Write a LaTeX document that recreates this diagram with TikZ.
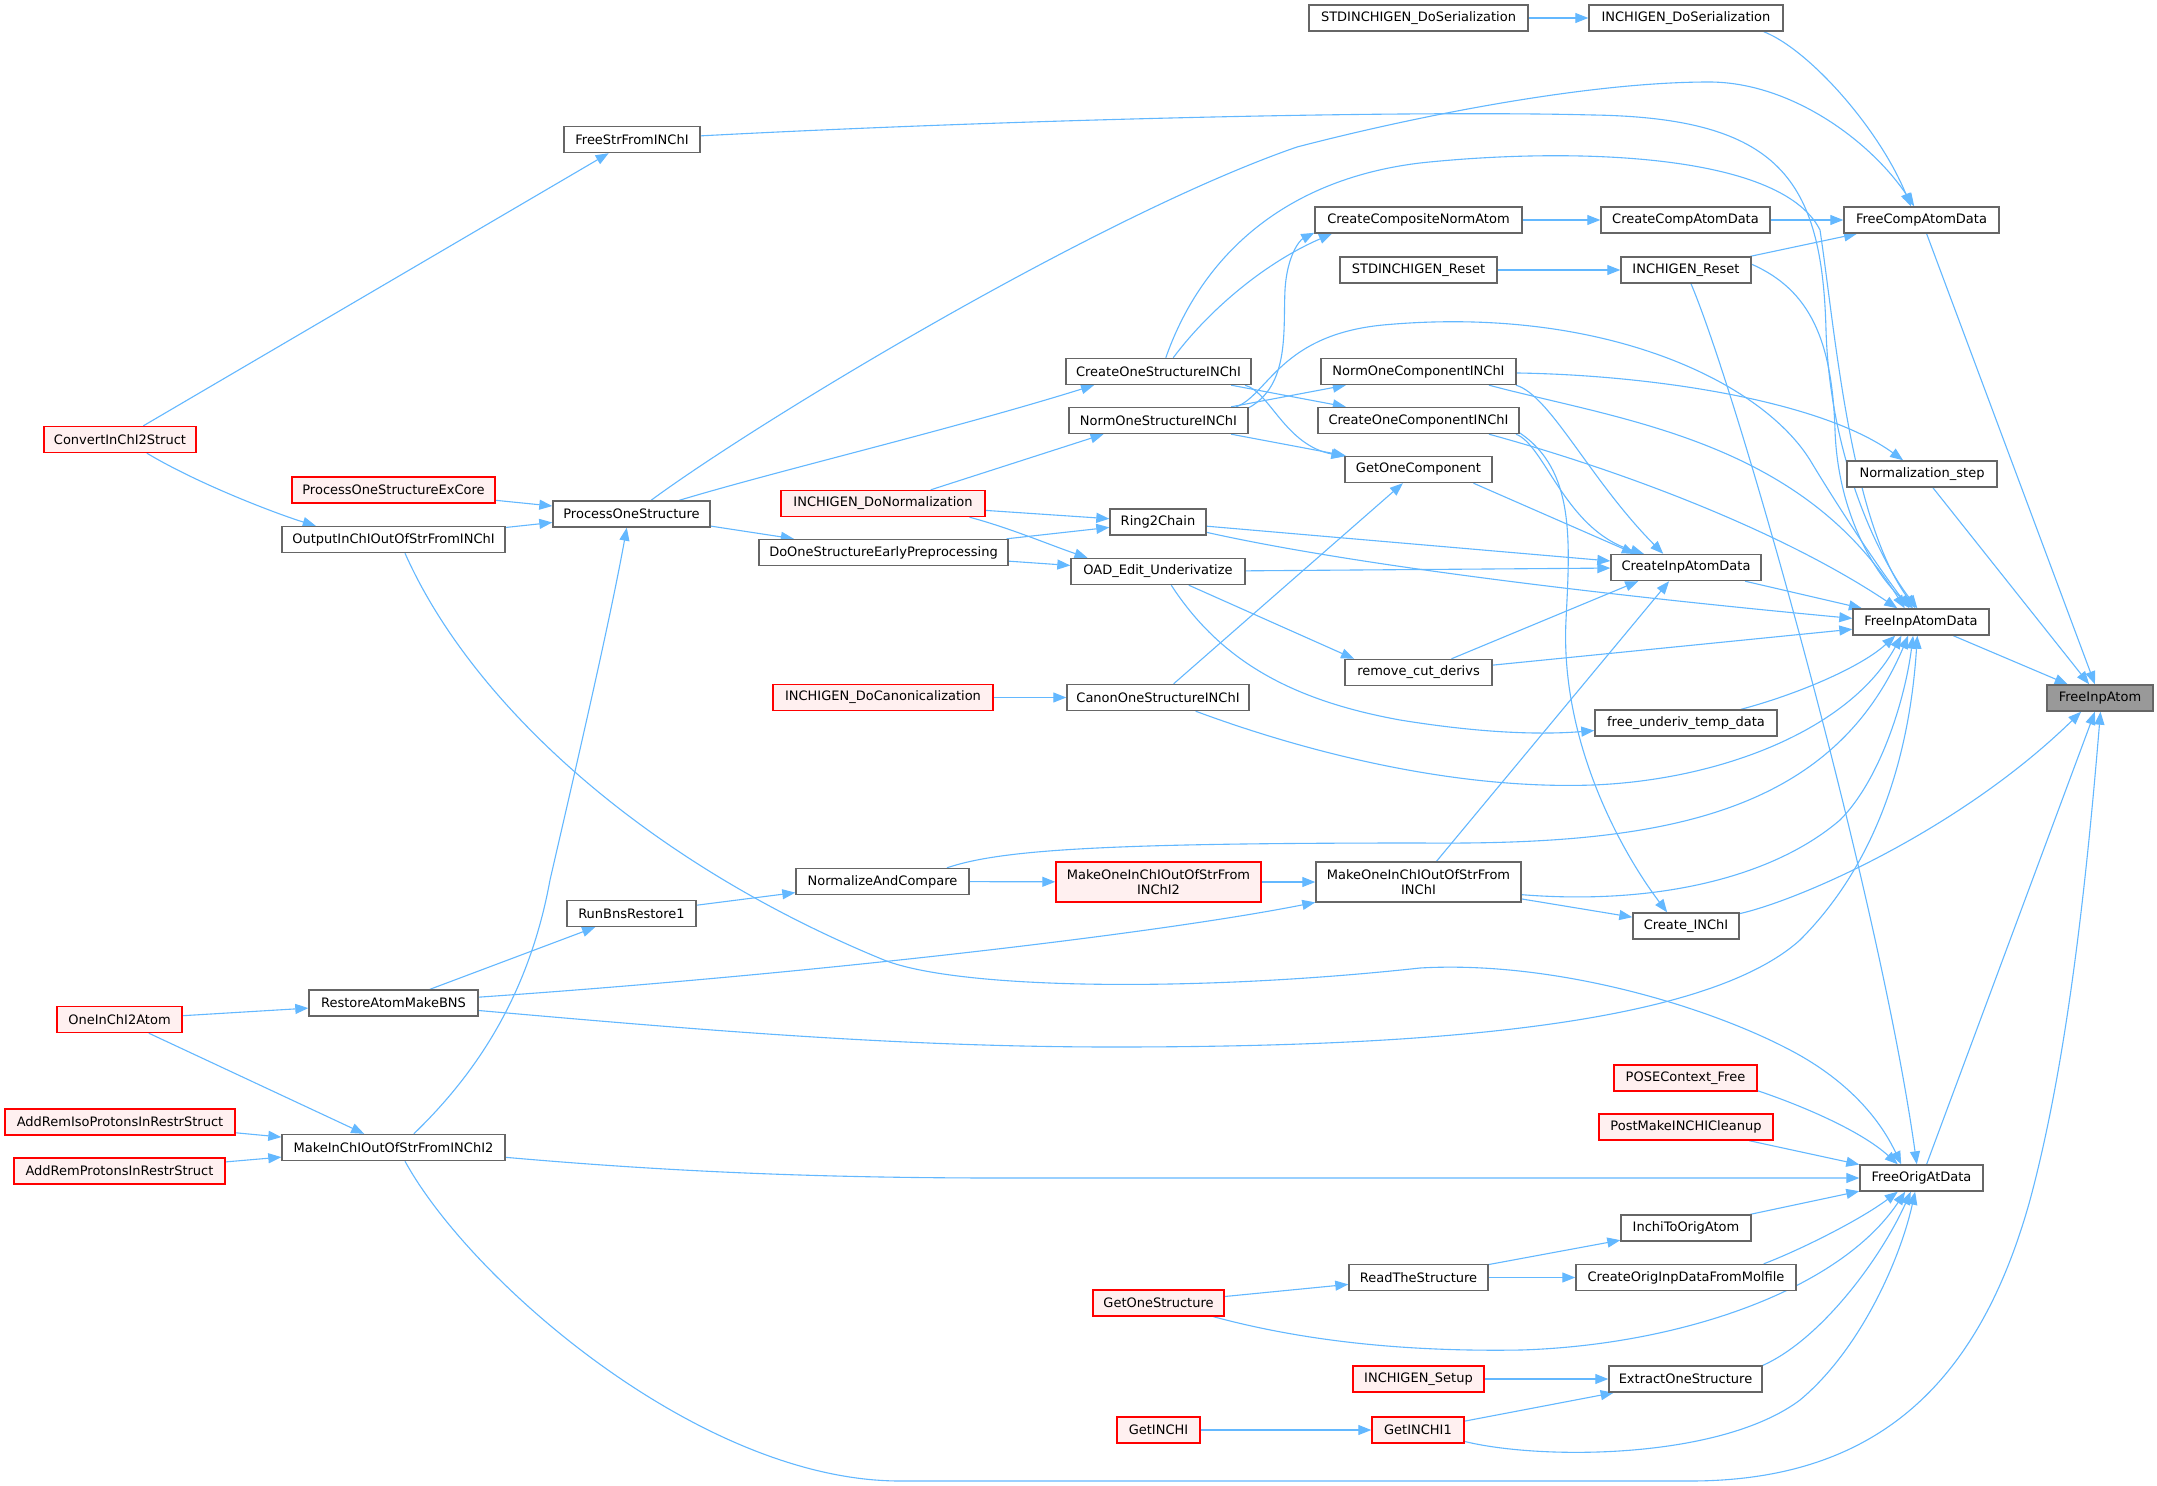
\documentclass[tikz,border=0pt]{standalone}
\usepackage{fontspec}
\setmainfont{DejaVu Sans}
\usetikzlibrary{arrows.meta}
\definecolor{edgeblue}{HTML}{63B8FF}
\definecolor{nodegray}{HTML}{666666}
\definecolor{redfill}{HTML}{FFF0F0}
\definecolor{rootgray}{HTML}{999999}
\pgfdeclarelayer{bg}
\pgfsetlayers{bg,main}
\tikzset{
  box/.style={draw=nodegray, fill=white, line width=1.4bp, minimum height=26bp, inner sep=0pt,
    font=\fontsize{13bp}{15bp}\selectfont, text=black, align=center},
  redbox/.style={box, draw=red, fill=redfill},
  rootbox/.style={box, fill=rootgray},
  twoline/.style={minimum height=40bp},
  e/.style={draw=edgeblue, line width=1.1bp, -{Triangle[length=13bp,width=10bp]}}
}
\begin{document}
\begin{tikzpicture}[x=1bp,y=-1bp]
\useasboundingbox (0,0) rectangle (2157,1486);
% nodes
\node[rootbox, minimum width=106bp] (fia) at (2100,698) {FreeInpAtom};
\node[box, minimum width=136bp] (fiad) at (1921,622) {FreeInpAtomData};
\node[box, minimum width=123bp] (foad) at (1921.5,1178) {FreeOrigAtData};
\node[box, minimum width=155bp] (fcad) at (1921.5,220) {FreeCompAtomData};
\node[box, minimum width=150bp] (nstep) at (1922,474) {Normalization\_step};
\node[box, minimum width=106bp] (cinchi) at (1686,926) {Create\_INChI};
\node[box, minimum width=194bp] (ids) at (1686,18) {INCHIGEN\_DoSerialization};
\node[box, minimum width=219bp] (sids) at (1418.5,18) {STDINCHIGEN\_DoSerialization};
\node[box, minimum width=169bp] (ccad) at (1685.5,220) {CreateCompAtomData};
\node[box, minimum width=207bp] (ccna) at (1418.5,220) {CreateCompositeNormAtom};
\node[box, minimum width=130bp] (ir) at (1686,270) {INCHIGEN\_Reset};
\node[box, minimum width=157bp] (sir) at (1418.5,270) {STDINCHIGEN\_Reset};
\node[box, minimum width=195bp] (nocomp) at (1418.5,371.5) {NormOneComponentINChI};
\node[box, minimum width=201bp] (cocomp) at (1418.5,420.5) {CreateOneComponentINChI};
\node[box, minimum width=147bp] (goc) at (1418.5,469.5) {GetOneComponent};
\node[box, minimum width=185bp] (cos) at (1158.5,371.5) {CreateOneStructureINChI};
\node[box, minimum width=179bp] (nos) at (1158.5,420.5) {NormOneStructureINChI};
\node[box, minimum width=136bp] (fsfi) at (632,139.5) {FreeStrFromINChI};
\node[redbox, minimum width=152bp] (conv) at (120,439.5) {ConvertInChI2Struct};
\node[redbox, minimum width=203bp] (posexc) at (393.5,490) {ProcessOneStructureExCore};
\node[box, minimum width=157bp] (pos) at (631.5,514) {ProcessOneStructure};
\node[box, minimum width=223bp] (outp) at (393.5,539.5) {OutputInChIOutOfStrFromINChI};
\node[box, minimum width=129bp] (rbr) at (631.5,913.5) {RunBnsRestore1};
\node[redbox, minimum width=204bp] (idn) at (883,503.5) {INCHIGEN\_DoNormalization};
\node[box, minimum width=96bp] (r2c) at (1158,522) {Ring2Chain};
\node[box, minimum width=249bp] (doep) at (883.5,552.5) {DoOneStructureEarlyPreprocessing};
\node[box, minimum width=174bp] (oad) at (1158,571.5) {OAD\_Edit\_Underivatize};
\node[box, minimum width=147bp] (rcd) at (1418.5,672.5) {remove\_cut\_derivs};
\node[redbox, minimum width=220bp] (idc) at (883,697.5) {INCHIGEN\_DoCanonicalization};
\node[box, minimum width=182bp] (canon) at (1158,697.5) {CanonOneStructureINChI};
\node[box, minimum width=173bp] (nac) at (882.5,881.5) {NormalizeAndCompare};
\node[redbox, twoline, minimum width=205bp] (mo2) at (1158.5,882) {MakeOneInChIOutOfStrFrom\\INChI2};
\node[box, twoline, minimum width=205bp] (mo) at (1418.5,882) {MakeOneInChIOutOfStrFrom\\INChI};
\node[box, minimum width=150bp] (ciad) at (1686,567.5) {CreateInpAtomData};
\node[box, minimum width=182bp] (futd) at (1686,723) {free\_underiv\_temp\_data};
\node[box, minimum width=169bp] (rambns) at (393.5,1003) {RestoreAtomMakeBNS};
\node[redbox, minimum width=125bp] (oi2a) at (119.5,1019.5) {OneInChI2Atom};
\node[redbox, minimum width=230bp] (arip) at (120,1122) {AddRemIsoProtonsInRestrStruct};
\node[box, minimum width=223bp] (mi2) at (393.5,1147.5) {MakeInChIOutOfStrFromINChI2};
\node[redbox, minimum width=211bp] (arp) at (119.5,1171) {AddRemProtonsInRestrStruct};
\node[box, minimum width=139bp] (rts) at (1418.5,1277.5) {ReadTheStructure};
\node[redbox, minimum width=131bp] (gos) at (1158.5,1303) {GetOneStructure};
\node[redbox, minimum width=131bp] (isetup) at (1418.5,1379) {INCHIGEN\_Setup};
\node[redbox, minimum width=83bp] (getinchi) at (1158.5,1430) {GetINCHI};
\node[redbox, minimum width=92bp] (getinchi1) at (1418,1430) {GetINCHI1};
\node[redbox, minimum width=143bp] (pose) at (1685.5,1078) {POSEContext\_Free};
\node[redbox, minimum width=174bp] (pmic) at (1686,1127) {PostMakeINCHICleanup};
\node[box, minimum width=130bp] (itoa) at (1686,1228) {InchiToOrigAtom};
\node[box, minimum width=220bp] (coid) at (1686,1277.5) {CreateOrigInpDataFromMolfile};
\node[box, minimum width=153bp] (eos) at (1685.5,1379) {ExtractOneStructure};
% edges
\begin{pgfonlayer}{bg}
\fill[white] (0,0) rectangle (2157,1486);
% into FreeInpAtom
\draw[e] (fiad) -- (fia);
\draw[e] (fcad) -- (fia);
\draw[e] (nstep) -- (fia);
\draw[e] (foad) -- (fia);
\draw[e] (cinchi.13) .. controls (1800,900) and (1960,830) .. (fia.-144);
\draw[e] (mi2.-50) .. controls (470,1280) and (700,1481) .. (900,1481) -- (1690,1481) .. controls (1880,1481) and (1980,1380) .. (2030,1200) .. controls (2065,1070) and (2085,900) .. (fia.-88);
% top area
\draw[e] (sids) -- (ids);
\draw[e] (ids.-10) .. controls (1810,50) and (1880,130) .. (fcad.128);
\draw[e] (ccna) -- (ccad);
\draw[e] (ccad) -- (fcad);
\draw[e] (sir) -- (ir);
\draw[e] (ir) -- (fcad);
\draw[e] (pos.35) .. controls (760,420) and (1100,215) .. (1297,147) .. controls (1420,115) and (1590,82) .. (1709,82) .. controls (1790,82) and (1870,140) .. (fcad.118);
\draw[e] (fsfi) .. controls (1000,120) and (1400,110) .. (1593,115) .. controls (1780,118) and (1822,180) .. (1826,330) .. controls (1830,460) and (1880,560) .. (fiad.105);
\draw[e] (cos.62) .. controls (1200,260) and (1280,180) .. (1420,163) .. controls (1560,148) and (1780,150) .. (1820,230) .. controls (1835,330) and (1850,520) .. (fiad.112);
\draw[e] (cos.43) .. controls (1205,315) and (1260,265) .. (ccna.-171);
\draw[e] (nos.8) .. controls (1290,385) and (1283,330) .. (1285,290) .. controls (1287,255) and (1300,240) .. (ccna.-173);
\draw[e] (nos) -- (nocomp);
\draw[e] (cos) -- (cocomp);
\draw[e] (nos) -- (goc);
\draw[e] (cos.-9) .. controls (1270,392) and (1285,445) .. (goc.170);
\draw[e] (nos.10) .. controls (1268,395) and (1280,335) .. (1383,325) .. controls (1600,305) and (1760,380) .. (1810,460) .. controls (1840,510) and (1880,570) .. (fiad.130);
\draw[e] (ir.5) .. controls (1810,290) and (1832,340) .. (1835,430) .. controls (1838,520) and (1880,580) .. (fiad.120);
\draw[e] (ir.-70) .. controls (1740,400) and (1880,900) .. (foad.109);
\draw[e] (nocomp) .. controls (1650,375) and (1820,400) .. (nstep);
\draw[e] (nocomp.-11) .. controls (1620,420) and (1800,440) .. (fiad.140);
\draw[e] (nocomp.-8) .. controls (1550,395) and (1590,480) .. (ciad.149);
\draw[e] (cocomp.-11) .. controls (1620,470) and (1780,530) .. (fiad.150);
\draw[e] (cocomp.-8) .. controls (1545,445) and (1565,530) .. (ciad.162);
\draw[e] (cocomp.-7.5) .. controls (1575,470) and (1570,540) .. (1566,620) .. controls (1560,740) and (1620,850) .. (cinchi.144);
\draw[e] (goc.-14) -- (ciad.165);
\draw[e] (canon) -- (goc);
\draw[e] (idc) -- (canon);
\draw[e] (ciad) -- (fiad);
\draw[e] (r2c) -- (ciad);
\draw[e] (r2c.-12) .. controls (1330,560) and (1550,590) .. (fiad.177);
\draw[e] (oad) -- (ciad);
\draw[e] (rcd) -- (ciad.-164);
\draw[e] (rcd) -- (fiad.-174);
\draw[e] (futd.14) .. controls (1795,695) and (1860,668) .. (fiad.-152);
\draw[e] (canon.-20) .. controls (1300,750) and (1450,790) .. (1593,785) .. controls (1720,780) and (1850,730) .. (fiad.-145);
\draw[e] (nac.12) .. controls (1000,850) and (1100,843) .. (1420,843) .. controls (1650,845) and (1830,820) .. (fiad.-133);
\draw[e] (mo.-7) .. controls (1650,905) and (1770,880) .. (1840,820) .. controls (1880,780) and (1905,700) .. (fiad.-120);
\draw[e] (rambns) .. controls (700,1030) and (900,1047) .. (1113,1047) .. controls (1400,1047) and (1700,1030) .. (1800,940) .. controls (1880,860) and (1910,750) .. (fiad.-105);
\draw[e] (mo) -- (cinchi);
\draw[e] (mo.49) -- (ciad.-141);
% left / middle
\draw[e] (conv) -- (fsfi);
\draw[e] (conv.-27) .. controls (200,485) and (280,515) .. (outp.170);
\draw[e] (posexc) -- (pos);
\draw[e] (outp) -- (pos);
\draw[e] (pos.16) .. controls (780,470) and (950,430) .. (cos.-168);
\draw[e] (pos) -- (doep);
\draw[e] (idn.16) -- (nos.-166);
\draw[e] (idn) -- (r2c);
\draw[e] (idn.-9) .. controls (1010,528) and (1050,545) .. (oad.169);
\draw[e] (doep) -- (r2c);
\draw[e] (doep) -- (oad);
\draw[e] (oad.-24) -- (rcd.168);
\draw[e] (oad.-46) .. controls (1220,660) and (1290,700) .. (1400,720) .. controls (1480,733) and (1540,735) .. (futd);
\draw[e] (outp.-50) .. controls (470,700) and (640,860) .. (884,960) .. controls (960,990) and (1200,992) .. (1420,968) .. controls (1560,960) and (1720,1010) .. (1801,1056) .. controls (1860,1090) and (1885,1130) .. (foad.146);
\draw[e] (mi2) .. controls (650,1170) and (800,1178) .. (1000,1178) -- (foad);
\draw[e] (mi2.34) .. controls (480,1070) and (530,990) .. (550,880) .. controls (580,750) and (610,620) .. (pos.-109);
\draw[e] (oi2a) -- (rambns);
\draw[e] (oi2a) -- (mi2);
\draw[e] (arip) -- (mi2);
\draw[e] (arp) -- (mi2);
\draw[e] (rambns) -- (rbr);
\draw[e] (rbr) -- (nac);
\draw[e] (nac) -- (mo2);
\draw[e] (mo2) -- (mo);
\draw[e] (rambns) .. controls (800,975) and (1150,935) .. (mo);
% into FreeOrigAtData
\draw[e] (pose.-10) .. controls (1800,1105) and (1860,1130) .. (foad.150);
\draw[e] (pmic) -- (foad);
\draw[e] (itoa) -- (foad);
\draw[e] (coid.10) .. controls (1800,1250) and (1860,1220) .. (foad.-150);
\draw[e] (gos.-14) .. controls (1300,1340) and (1400,1352) .. (1521,1350) .. controls (1680,1345) and (1840,1290) .. (foad.-140);
\draw[e] (eos.10) .. controls (1820,1340) and (1880,1260) .. (foad.-128);
\draw[e] (getinchi1) .. controls (1540,1460) and (1720,1460) .. (1800,1400) .. controls (1860,1350) and (1900,1260) .. (foad.-115);
\draw[e] (getinchi) -- (getinchi1);
\draw[e] (getinchi1) -- (eos);
\draw[e] (isetup) -- (eos);
\draw[e] (gos) -- (rts);
\draw[e] (rts) -- (itoa);
\draw[e] (rts) -- (coid);
\end{pgfonlayer}
\end{tikzpicture}
\end{document}
